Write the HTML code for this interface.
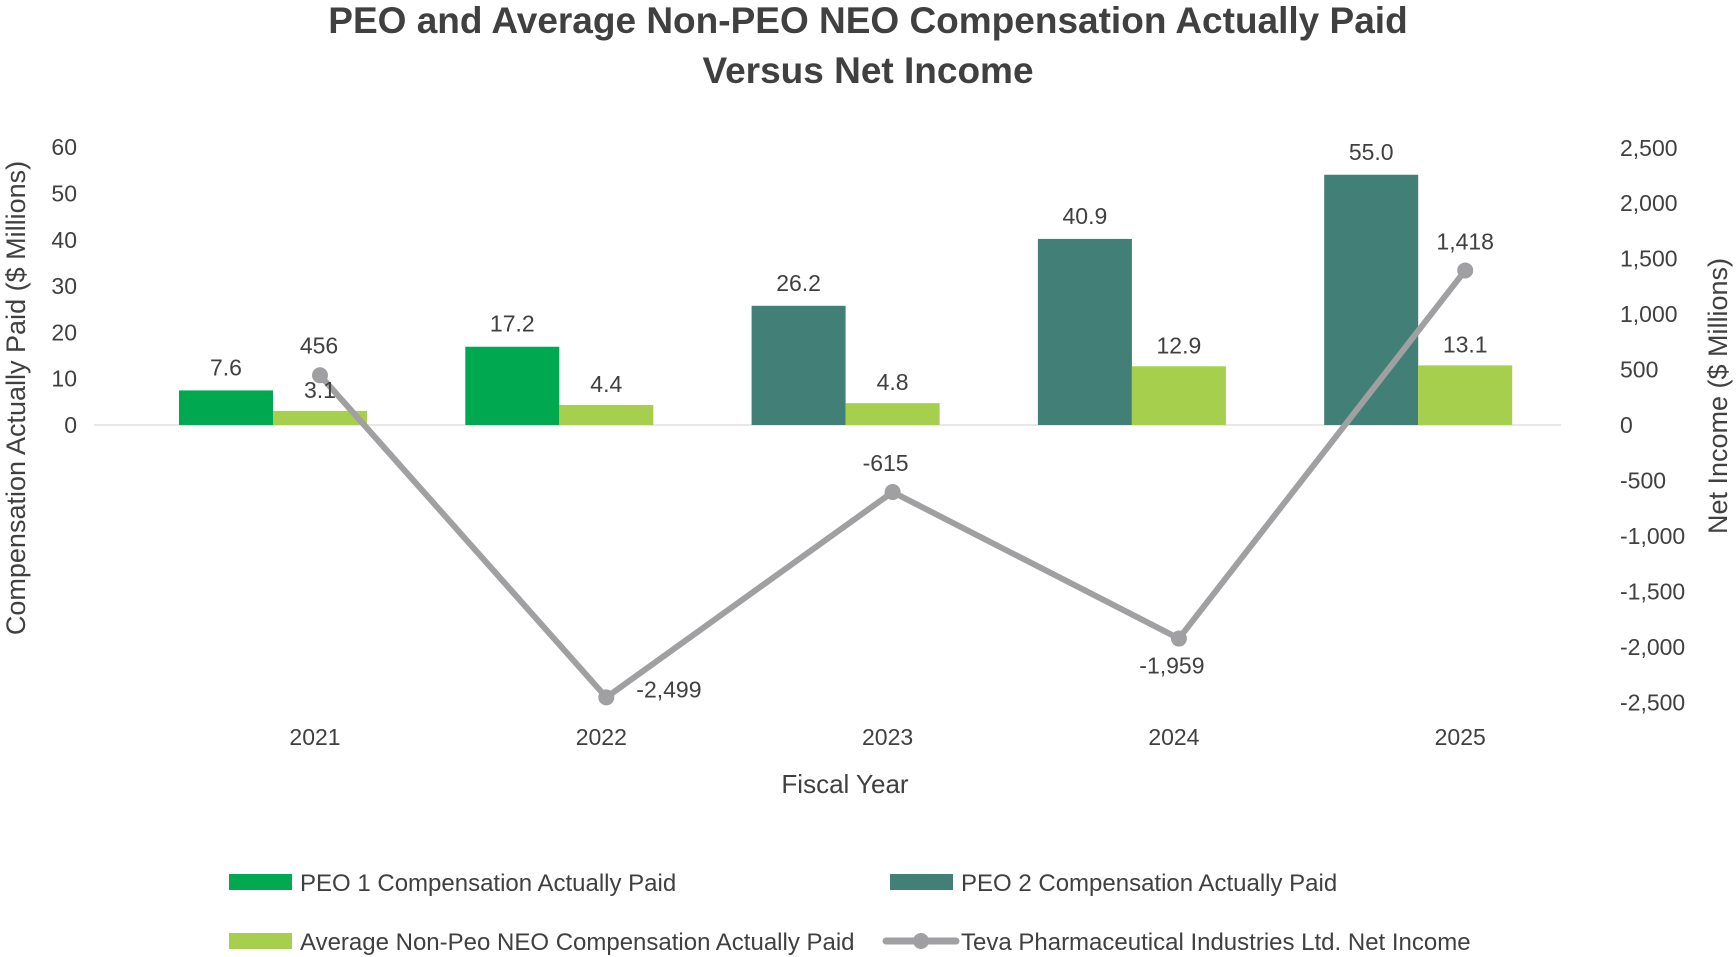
<!DOCTYPE html>
<html><head><meta charset="utf-8"><style>
html,body{margin:0;padding:0;background:#fff;}
svg{display:block;font-family:"Liberation Sans",sans-serif;}
</style></head><body>
<svg id="chart" width="1736" height="957" viewBox="0 0 1736 957">
<text x="868" y="33" text-anchor="middle" font-size="37" font-weight="bold" fill="#404040">PEO and Average Non-PEO NEO Compensation Actually Paid</text>
<text x="868" y="83" text-anchor="middle" font-size="37" font-weight="bold" fill="#404040">Versus Net Income</text>
<g id="plot"></g>
<text transform="translate(25,398) rotate(-90)" text-anchor="middle" font-size="27" fill="#404040">Compensation Actually Paid ($ Millions)</text>
<text transform="translate(1727,396) rotate(-90)" text-anchor="middle" font-size="27" fill="#404040">Net Income ($ Millions)</text>
<text x="845" y="793" text-anchor="middle" font-size="26" fill="#404040">Fiscal Year</text>
<g>
<rect x="229" y="874" width="63" height="16" fill="#00A94F"/>
<text x="300" y="891" font-size="24" fill="#404040">PEO 1 Compensation Actually Paid</text>
<rect x="890" y="874" width="63" height="16" fill="#428077"/>
<text x="961" y="891" font-size="24" fill="#404040">PEO 2 Compensation Actually Paid</text>
<rect x="229" y="933" width="63" height="16" fill="#A5CF4C"/>
<text x="300" y="950" font-size="24" fill="#404040">Average Non-Peo NEO Compensation Actually Paid</text>
<line x1="886" y1="941" x2="956" y2="941" stroke="#A0A0A2" stroke-width="7" stroke-linecap="round"/>
<circle cx="921" cy="941" r="8" fill="#A0A0A2"/>
<text x="961" y="950" font-size="24" fill="#404040">Teva Pharmaceutical Industries Ltd. Net Income</text>
</g>
</svg>
<script>
const years = ["2021","2022","2023","2024","2025"];
const peo1 = [7.6, 17.2, null, null, null];
const peo2 = [null, null, 26.2, 40.9, 55.0];
const avgNeo = [3.1, 4.4, 4.8, 12.9, 13.1];
const netIncome = [456, -2499, -615, -1959, 1418];
const leftTicks = [0,10,20,30,40,50,60];
const rightTicks = [2500,2000,1500,1000,500,0,-500,-1000,-1500,-2000,-2500];

const NS="http://www.w3.org/2000/svg";
const g=document.getElementById('plot');
const zeroY=425;
const yTickL=v=>zeroY-v*4.63;
const yL=v=>zeroY-v*4.55;
const yTickR=v=>zeroY-v*0.1109;
const yR=v=>zeroY-v*0.109;
const xC=i=>320+i*286.3;
const fmt=v=>v.toLocaleString('en-US');
function mk(tag,attrs,text){const e=document.createElementNS(NS,tag);for(const k in attrs)e.setAttribute(k,attrs[k]);if(text!==undefined)e.textContent=text;g.appendChild(e);return e;}

const base=mk('line',{x1:94,x2:1561,y1:zeroY,y2:zeroY,stroke:'#E8E8E8','stroke-width':2});



leftTicks.forEach(t=>{
  const e=mk('text',{x:77,y:yTickL(t)+8,'text-anchor':'end','font-size':23,fill:'#404040'},String(t));
  
  
});
rightTicks.forEach(t=>{
  const e=mk('text',{x:1620,y:yTickR(t)+8,'font-size':23,fill:'#404040'},fmt(t));
  
  
});
years.forEach((y,i)=>{
  const e=mk('text',{x:xC(i)-5,y:745,'text-anchor':'middle','font-size':23,fill:'#404040'},y);
  
  
});

const bw=94;
years.forEach((y,i)=>{
  const c=xC(i);
  const dv=peo1[i]!=null?peo1[i]:peo2[i];
  const col=peo1[i]!=null?'#00A94F':'#428077';
  const nm=peo1[i]!=null?'peo1':'peo2';
  if(dv!=null){
    const b=mk('rect',{x:c-141,y:yL(dv),width:bw,height:zeroY-yL(dv),fill:col});
    
    
    const l=mk('text',{x:c-94,y:yL(dv)-15,'text-anchor':'middle','font-size':23,fill:'#404040'},dv.toFixed(1));
    
    
  }
  const a=avgNeo[i];
  const b2=mk('rect',{x:c-47,y:yL(a),width:bw,height:zeroY-yL(a),fill:'#A5CF4C'});
  
  
});

const pts=netIncome.map((v,i)=>xC(i)+','+yR(v)).join(' ');
const pl=mk('polyline',{points:pts,fill:'none',stroke:'#A0A0A2','stroke-width':6,'stroke-linejoin':'round'});


netIncome.forEach((v,i)=>{
  const p=mk('circle',{cx:xC(i),cy:yR(v),r:8,fill:'#A0A0A2'});
  
  
});

years.forEach((y,i)=>{
  const a=avgNeo[i];
  const l=mk('text',{x:xC(i),y:yL(a)-13,'text-anchor':'middle','font-size':23,fill:'#404040'},a.toFixed(1));
  
  
});
const nOff=[[-1,-22,'middle'],[30,0,'start'],[-7,-21,'middle'],[-7,35,'middle'],[0,-21,'middle']];
netIncome.forEach((v,i)=>{
  const o=nOff[i];
  const l=mk('text',{x:xC(i)+o[0],y:yR(v)+o[1],'text-anchor':o[2],'font-size':23,fill:'#404040'},fmt(v));
  
  
});
</script>
</body></html>
